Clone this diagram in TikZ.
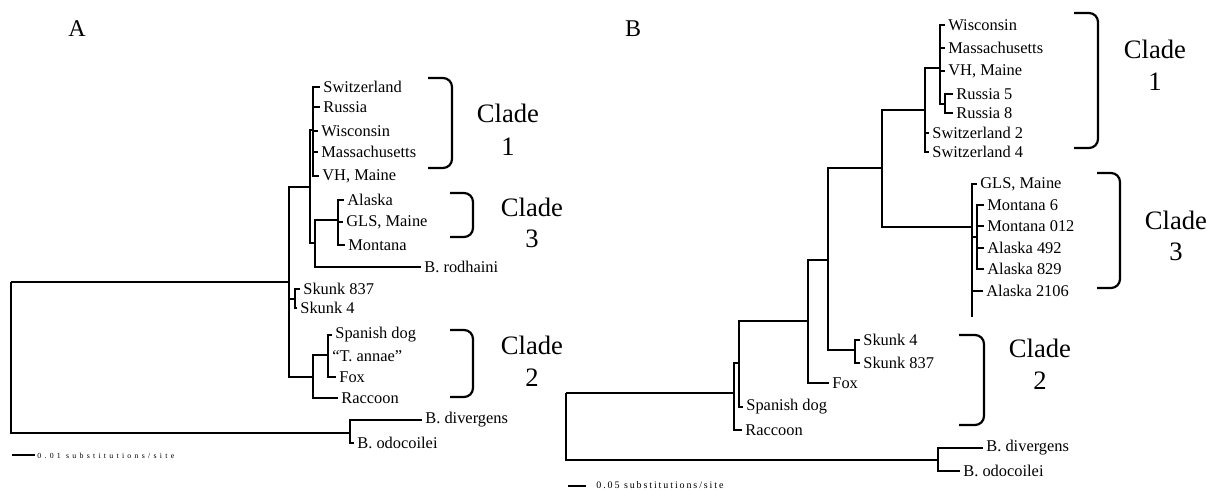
\documentclass[tikz,border=0pt]{standalone}
\usepackage{fontspec}
\setmainfont{Liberation Serif}
\newfontfamily\sbAfont[LetterSpace=42]{Liberation Serif}
\newfontfamily\sbBfont[LetterSpace=19]{Liberation Serif}
\newcommand\labfont{\fontsize{8.2}{9}\selectfont}
\newcommand\cladefont{\fontsize{13.3}{15}\selectfont}
\tikzset{
  tree/.style={line width=0.85pt},
  brk/.style={line width=1.1pt, rounded corners=4.5pt},
  leaf/.style={anchor=west, inner xsep=1.5pt, inner ysep=0pt, font=\labfont},
  cladetxt/.style={inner sep=0pt, font=\cladefont},
  panel/.style={inner sep=0pt, font=\fontsize{12}{14}\selectfont},
}
\begin{document}
\begin{tikzpicture}[x=0.5pt,y=-0.5pt]
\useasboundingbox (0,0) rectangle (1207,491);
% ---------------- Panel A ----------------
\node[panel] (labA) at (77,29) {A};
\coordinate (rA) at (11,282);
\coordinate (iA) at (289,282);
\coordinate (c13) at (310,187);
\coordinate (cl1) at (313,130);
\coordinate (c3r) at (315,243);
\coordinate (cl3) at (338,220);
\coordinate (skA) at (295,299);
\coordinate (c2) at (313,377);
\coordinate (c2a) at (328,355);
\coordinate (oA) at (350,433);
\node[leaf] (aSwi) at (320,87) {Switzerland};
\node[leaf] (aRus) at (320,107) {Russia};
\node[leaf] (aWis) at (318,131) {Wisconsin};
\node[leaf] (aMas) at (318,152) {Massachusetts};
\node[leaf] (aVH) at (319,176) {VH, Maine};
\node[leaf] (aAla) at (344,200) {Alaska};
\node[leaf] (aGLS) at (343,222) {GLS, Maine};
\node[leaf] (aMon) at (345,245) {Montana};
\node[leaf] (aRod) at (421,267) {B. rodhaini};
\node[leaf] (aSk8) at (300,289) {Skunk 837};
\node[leaf] (aSk4) at (297,308) {Skunk 4};
\node[leaf] (aSpa) at (332,335) {Spanish dog};
\node[leaf] (aTan) at (329,356) {“T. annae”};
\node[leaf] (aFox) at (336,377) {Fox};
\node[leaf] (aRac) at (338,398) {Raccoon};
\node[leaf] (aDiv) at (422,420) {B. divergens};
\node[leaf] (aOdo) at (354,443) {B. odocoilei};
\draw[tree] (rA) |- (iA);
\draw[tree] (rA) |- (oA);
\draw[tree] (iA) |- (c13);
\draw[tree] (iA) |- (skA);
\draw[tree] (iA) |- (c2);
\draw[tree] (c13) |- (cl1);
\draw[tree] (c13) |- (c3r);
\foreach \l in {aSwi,aRus,aWis,aMas,aVH} \draw[tree] (cl1) |- (\l.west);
\draw[tree] (c3r) |- (cl3);
\draw[tree] (c3r) |- (aRod.west);
\foreach \l in {aAla,aGLS,aMon} \draw[tree] (cl3) |- (\l.west);
\foreach \l in {aSk8,aSk4} \draw[tree] (skA) |- (\l.west);
\draw[tree] (c2) |- (c2a);
\draw[tree] (c2) |- (aRac.west);
\foreach \l in {aSpa,aTan,aFox} \draw[tree] (c2a) |- (\l.west);
\foreach \l in {aDiv,aOdo} \draw[tree] (oA) |- (\l.west);
% brackets A
\draw[brk] (428,78) -- (452,78) -- (452,168) -- (428,168);
\draw[brk] (450,193) -- (473,193) -- (473,237) -- (450,237);
\draw[brk] (450,330) -- (473,330) -- (473,397) -- (450,397);
\node[cladetxt] (aC1) at (508,113) {Clade};
\node[cladetxt] (aC1n) at (508,147) {1};
\node[cladetxt] (aC3) at (532,207) {Clade};
\node[cladetxt] (aC3n) at (532,239) {3};
\node[cladetxt] (aC2) at (532,345) {Clade};
\node[cladetxt] (aC2n) at (532,378) {2};
% scale A
\coordinate (sA1) at (12,455);
\coordinate (sA2) at (35,455);
\draw[line width=0.7pt] (sA1) -- (sA2);
\node[anchor=west, inner sep=0pt, font=\sbAfont\fontsize{3.9}{4.5}\selectfont] (sAt) at (37,455.5) {0.01 substitutions/site};
% ---------------- Panel B ----------------
\node[panel] (labB) at (633,29) {B};
\coordinate (rB) at (566,393);
\coordinate (iB) at (734,393);
\coordinate (n2) at (739,363);
\coordinate (mB) at (808,321);
\coordinate (n3) at (828,260);
\coordinate (skB) at (855,350);
\coordinate (n4) at (882,168);
\coordinate (cl1B) at (925,110);
\coordinate (wmv) at (940,68);
\coordinate (ru) at (945,104);
\coordinate (cl3B) at (972,227);
\coordinate (mtak) at (977,237);
\coordinate (c3end) at (972,317);
\coordinate (oB) at (938,460);
\node[leaf] (bWis) at (945,25) {Wisconsin};
\node[leaf] (bMas) at (945,48) {Massachusetts};
\node[leaf] (bVH) at (945,71) {VH, Maine};
\node[leaf] (bRu5) at (953,94) {Russia 5};
\node[leaf] (bRu8) at (953,113) {Russia 8};
\node[leaf] (bSw2) at (929,133) {Switzerland 2};
\node[leaf] (bSw4) at (929,152) {Switzerland 4};
\node[leaf] (bGLS) at (977,184) {GLS, Maine};
\node[leaf] (bMo6) at (984,205) {Montana 6};
\node[leaf] (bMo0) at (984,226) {Montana 012};
\node[leaf] (bA49) at (984,248) {Alaska 492};
\node[leaf] (bA82) at (984,269) {Alaska 829};
\node[leaf] (bA21) at (983,291) {Alaska 2106};
\node[leaf] (bSk4) at (860,340) {Skunk 4};
\node[leaf] (bSk8) at (860,363) {Skunk 837};
\node[leaf] (bFox) at (829,383) {Fox};
\node[leaf] (bSpa) at (743,407) {Spanish dog};
\node[leaf] (bRac) at (742,430) {Raccoon};
\node[leaf] (bDiv) at (983,448) {B. divergens};
\node[leaf] (bOdo) at (960,471) {B. odocoilei};
\draw[tree] (rB) |- (iB);
\draw[tree] (rB) |- (oB);
\draw[tree] (iB) |- (n2);
\draw[tree] (iB) |- (bRac.west);
\draw[tree] (n2) |- (mB);
\draw[tree] (n2) |- (bSpa.west);
\draw[tree] (mB) |- (n3);
\draw[tree] (mB) |- (bFox.west);
\draw[tree] (n3) |- (n4);
\draw[tree] (n3) |- (skB);
\foreach \l in {bSk4,bSk8} \draw[tree] (skB) |- (\l.west);
\draw[tree] (n4) |- (cl1B);
\draw[tree] (n4) |- (cl3B);
\draw[tree] (cl1B) |- (wmv);
\foreach \l in {bSw2,bSw4} \draw[tree] (cl1B) |- (\l.west);
\foreach \l in {bWis,bMas,bVH} \draw[tree] (wmv) |- (\l.west);
\draw[tree] (wmv) |- (ru);
\foreach \l in {bRu5,bRu8} \draw[tree] (ru) |- (\l.west);
\draw[tree] (cl3B) |- (bGLS.west);
\draw[tree] (cl3B) |- (mtak);
\draw[tree] (cl3B) |- (bA21.west);
\draw[tree] (cl3B) -- (c3end);
\foreach \l in {bMo6,bMo0,bA49,bA82} \draw[tree] (mtak) |- (\l.west);
\foreach \l in {bDiv,bOdo} \draw[tree] (oB) |- (\l.west);
% brackets B
\draw[brk] (1074,13) -- (1098,13) -- (1098,148) -- (1074,148);
\draw[brk] (1097,173) -- (1120,173) -- (1120,288) -- (1097,288);
\draw[brk] (959,335) -- (984,335) -- (984,425) -- (959,425);
\node[cladetxt] (bC1) at (1155,49) {Clade};
\node[cladetxt] (bC1n) at (1155,82) {1};
\node[cladetxt] (bC3) at (1176,220) {Clade};
\node[cladetxt] (bC3n) at (1176,252) {3};
\node[cladetxt] (bC2) at (1040,348) {Clade};
\node[cladetxt] (bC2n) at (1040,381) {2};
% scale B
\coordinate (sB1) at (568,486);
\coordinate (sB2) at (586,486);
\draw[line width=0.8pt] (sB1) -- (sB2);
\node[anchor=west, inner sep=0pt, font=\sbBfont\fontsize{5}{6}\selectfont] (sBt) at (596,485.5) {0.05 substitutions/site};
\end{tikzpicture}
\end{document}
